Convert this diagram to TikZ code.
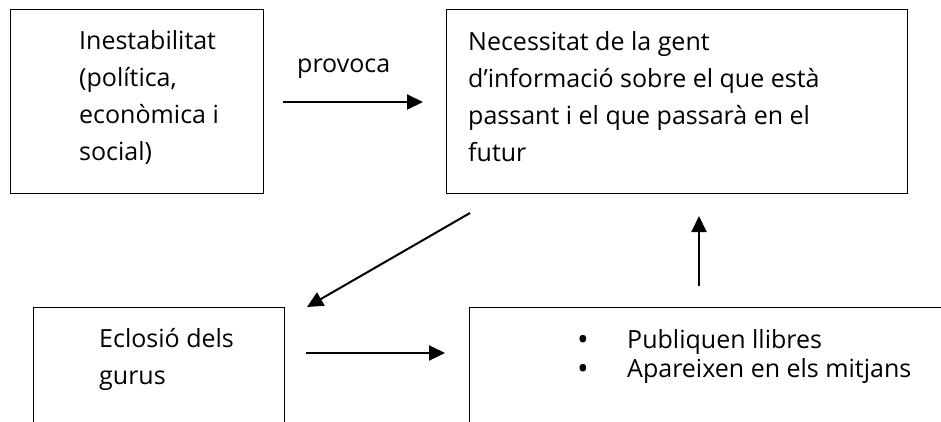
\documentclass[tikz,border=0pt]{standalone}
\usepackage{fontspec}
\setmainfont{Open Sans}
\usetikzlibrary{arrows.meta}
\newcommand{\bigbul}{\makebox[50pt][l]{\raisebox{-2pt}{\smash{\fontsize{31}{0}\selectfont •}}}}
\begin{document}
\begin{tikzpicture}[x=1pt,y=-1pt,
  box/.style={draw, line width=1.3pt, inner sep=0pt, anchor=north west},
  txt/.style={anchor=base west, inner sep=0pt, align=left, font=\fontsize{25}{36.7}\selectfont},
  arr/.style={line width=2pt, -{Triangle[length=16pt,width=15pt]}}]
\useasboundingbox (0,0) rectangle (941,421);
\clip (0,0) rectangle (941,421);
\fill[white] (0,0) rectangle (941,421);
% boxes
\node[box, minimum width=253pt, minimum height=184pt] (A) at (10,9) {};
\node[box, minimum width=461pt, minimum height=184pt] (B) at (446,9) {};
\node[box, minimum width=251pt, minimum height=140pt] (C) at (33,307) {};
\node[box, minimum width=520pt, minimum height=140pt] (D) at (469,307) {};
% texts (base anchor = baseline of last line)
\node[txt] (tA) at (79,160) {Inestabilitat\\(política,\\econòmica i\\social)};
\node[txt] (tB) at (468,161) {Necessitat de la gent\\d’informació sobre el que està\\passant i el que passarà en el\\futur};
\node[txt] (tC) at (99,384) {Eclosió dels\\gurus};
\node[txt, font=\fontsize{25}{29}\selectfont] (tD) at (577,377) {\bigbul Publiquen llibres\\\bigbul Apareixen en els mitjans};
\node[txt] (lab) at (297,72) {provoca};
% connector ends
\coordinate (a1) at (283,102);
\coordinate (a2) at (423,102);
\coordinate (b1) at (470,213);
\coordinate (b2) at (307,307);
\coordinate (c1) at (306,353);
\coordinate (c2) at (445,353);
\coordinate (d1) at (699,286);
\coordinate (d2) at (699,216);
\draw[arr] (a1) -- (a2);
\draw[arr] (b1) -- (b2);
\draw[arr] (c1) -- (c2);
\draw[arr] (d1) -- (d2);
\end{tikzpicture}
\end{document}
